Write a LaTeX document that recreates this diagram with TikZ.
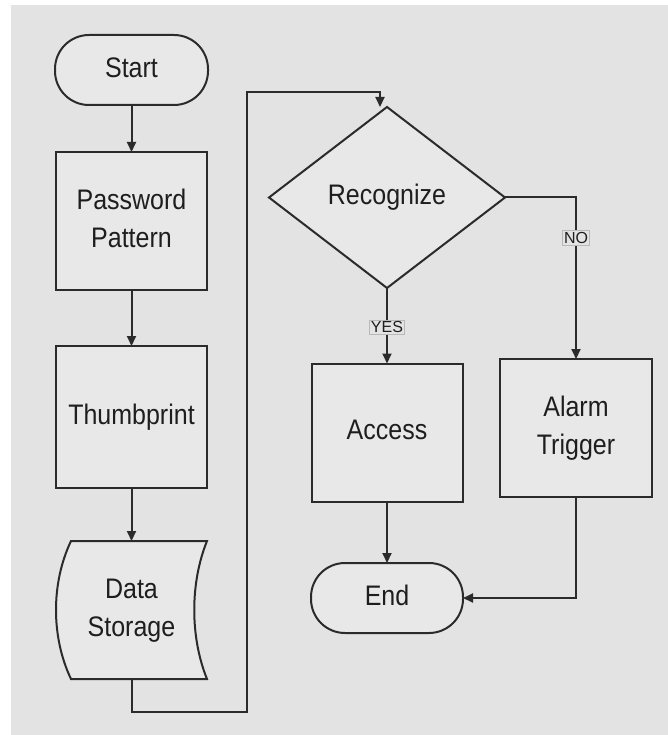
\documentclass[tikz,border=0pt]{standalone}
\usepackage{fontspec}
\usepackage{graphicx}
\setmainfont{Liberation Sans}
\usetikzlibrary{shapes.geometric,arrows.meta,calc}
\definecolor{bgc}{HTML}{E3E3E3}
\definecolor{fillc}{HTML}{E8E8E8}
\definecolor{linec}{HTML}{2B2B2B}
\definecolor{textc}{HTML}{1E1E1E}
\newcommand\vstr[1]{\scalebox{1}[1.13]{\begin{tabular}{@{}c@{}}#1\end{tabular}}}
\begin{document}
\begin{tikzpicture}[x=1pt,y=-1pt,
  every node/.style={outer sep=0pt,inner sep=0pt,text=textc,font=\fontsize{25}{33}\selectfont},
  procbox/.style={draw=linec,line width=2pt,fill=fillc,rectangle,minimum width=151pt,minimum height=138pt},
  termbox/.style={draw=linec,line width=2pt,fill=fillc,rectangle,rounded corners=34pt,minimum width=153pt,minimum height=70pt},
  decbox/.style={draw=linec,line width=2pt,fill=fillc,diamond,minimum width=236pt,minimum height=181pt},
  conn/.style={draw=linec,line width=2pt},
  arr/.style={conn,-{Triangle[length=10pt,width=9pt]}},
  tag/.style={fill=bgc,draw=gray!55,line width=0.6pt,inner sep=1.5pt,font=\fontsize{16}{18}\selectfont}]
\useasboundingbox (0,0) rectangle (668,735);
\fill[white] (0,0) rectangle (668,735);
\fill[bgc] (11,5) rectangle (668,735);

\node[termbox] (start) at (131.5,70) {\vstr{Start}};
\node[procbox] (pw) at (131.5,221) {\vstr{Password\\Pattern}};
\node[procbox,minimum height=142pt] (th) at (131.5,417) {\vstr{Thumbprint}};

% Data Storage shape
\coordinate (dsnw) at (71,541);
\coordinate (dsne) at (207,541);
\coordinate (dsse) at (207,679);
\coordinate (dssw) at (71,679);
\draw[conn,fill=fillc] (dsnw) -- (dsne) .. controls (190,583) and (190,637) .. (dsse) -- (dssw) .. controls (51,637) and (51,583) .. cycle;
\node (ds) at (131.5,610) {\vstr{Data\\Storage}};
\coordinate (dstop) at (131.5,541);
\coordinate (dsbot) at (131.5,679);

\node[decbox] (rec) at (387,197.5) {\vstr{Recognize}};
\node[procbox] (acc) at (387,432.5) {\vstr{Access}};
\node[procbox,minimum width=152pt] (alarm) at (576,428) {\vstr{Alarm\\Trigger}};
\node[termbox,minimum width=152pt] (end) at (387,598) {\vstr{End}};

\draw[arr] (start) -- (pw);
\draw[arr] (pw) -- (th);
\draw[arr] (th) -- (dstop);
\draw[arr] (dsbot) -- (131.5,712) -- (247,712) -- (247,92) -- (380,92) -- (380,107);
\draw[arr] (rec.south) -- node[tag,pos=0.52] {YES} (acc.north);
\draw[arr] (rec.east) -- (alarm.north |- rec.east) -- node[tag,pos=0.25] {NO} (alarm.north);
\draw[arr] (acc) -- (end);
\draw[arr] (alarm.south) -- (alarm.south |- end.east) -- (end.east);
\end{tikzpicture}
\end{document}
